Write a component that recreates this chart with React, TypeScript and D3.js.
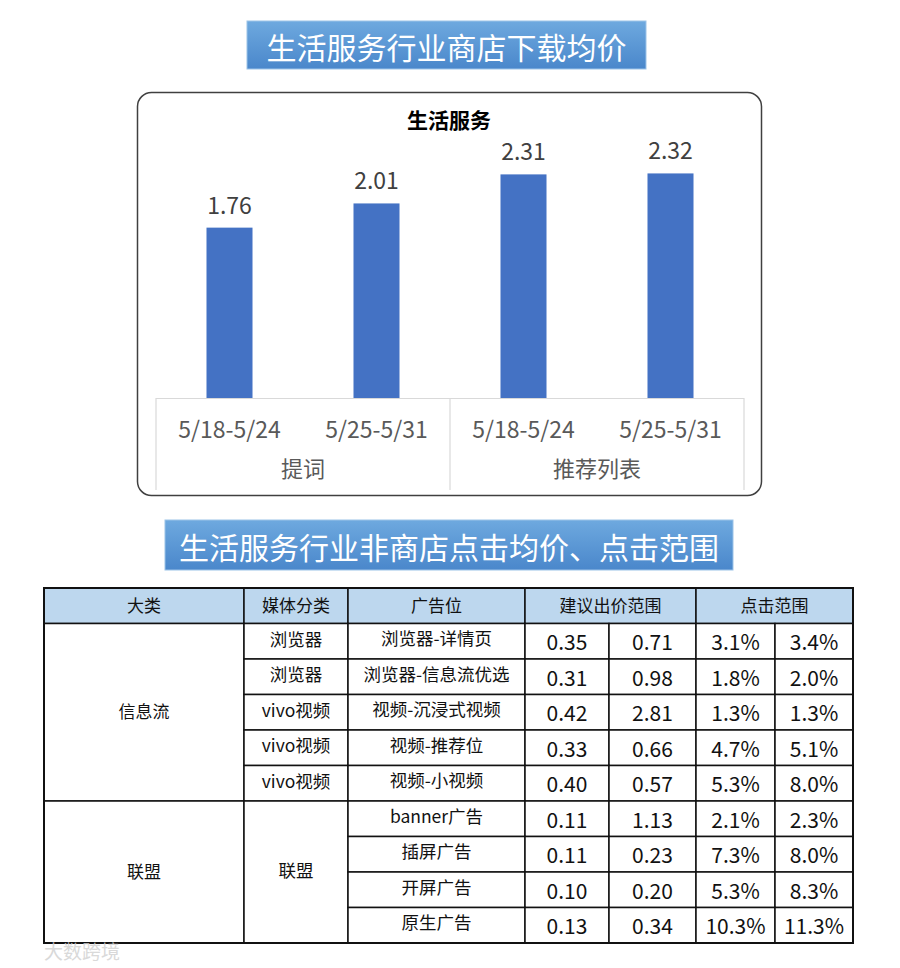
import React from "react"
import * as d3 from "d3"

// bar chart: average download price
const periods = ["5/18-5/24", "5/25-5/31", "5/18-5/24", "5/25-5/31"]
const groups = ["提词", "推荐列表"]
const prices = [1.76, 2.01, 2.31, 2.32]

// table: click price and click range
const headers = ["大类", "媒体分类", "广告位", "建议出价范围", "点击范围"]
const categories = ["信息流", "信息流", "信息流", "信息流", "信息流", "联盟", "联盟", "联盟", "联盟"]
const mediaCells = [
  { label: "浏览器", rows: 1 },
  { label: "浏览器", rows: 1 },
  { label: "vivo视频", rows: 1 },
  { label: "vivo视频", rows: 1 },
  { label: "vivo视频", rows: 1 },
  { label: "联盟", rows: 4 }
]
const adSlots = [
  "浏览器-详情页",
  "浏览器-信息流优选",
  "视频-沉浸式视频",
  "视频-推荐位",
  "视频-小视频",
  "banner广告",
  "插屏广告",
  "开屏广告",
  "原生广告"
]
const bidLow = ["0.35", "0.31", "0.42", "0.33", "0.40", "0.11", "0.11", "0.10", "0.13"]
const bidHigh = ["0.71", "0.98", "2.81", "0.66", "0.57", "1.13", "0.23", "0.20", "0.34"]
const clickLow = ["3.1%", "1.8%", "1.3%", "4.7%", "5.3%", "2.1%", "7.3%", "5.3%", "10.3%"]
const clickHigh = ["3.4%", "2.0%", "1.3%", "5.1%", "8.0%", "2.3%", "8.0%", "8.3%", "11.3%"]

const FONT = "'Noto Sans CJK SC', 'Noto Sans', sans-serif"

function Banner({ x, y, w, h, text, size }: { x: number; y: number; w: number; h: number; text: string; size: number }) {
  return (
    <g>
      <rect x={x} y={y} width={w} height={h} fill="url(#bannerGrad)" stroke="#9cc3e8" strokeWidth={1} />
      <text x={x + w / 2} y={y + h / 2 + 1} textAnchor="middle" dominantBaseline="central" fill="#fff" fontSize={size} fontFamily={FONT}>
        {text}
      </text>
    </g>
  )
}

function BarChart() {
  const left = 156
  const right = 744
  const baseline = 398
  const axisBottom = 490

  const x = d3
    .scaleBand<number>()
    .domain(d3.range(prices.length))
    .range([left, right])
    .paddingInner(0.687)
    .paddingOuter(0.3435)
  const y = d3.scaleLinear().domain([0, 2.5]).range([baseline, 156])
  const group = d3.scaleBand<string>().domain(groups).range([left, right])

  return (
    <g>
      <rect x={137.5} y={92.5} width={624} height={403} rx={14} fill="#fff" stroke="#404040" strokeWidth={1.5} />
      <text x={449} y={119} textAnchor="middle" dominantBaseline="central" fontSize={21} fontWeight="bold" fontFamily={FONT} fill="#000">
        生活服务
      </text>
      {prices.map((v, i) => (
        <g key={i}>
          <rect x={x(i)} y={y(v)} width={x.bandwidth()} height={baseline - y(v)} fill="#4472c4" />
          <text x={x(i)! + x.bandwidth() / 2} y={y(v) - 24} textAnchor="middle" dominantBaseline="central" fontSize={23} fill="#404040" fontFamily={FONT}>
            {v.toFixed(2)}
          </text>
          <text x={x(i)! + x.bandwidth() / 2} y={428} textAnchor="middle" dominantBaseline="central" fontSize={23} fill="#595959" fontFamily={FONT}>
            {periods[i]}
          </text>
        </g>
      ))}
      <line x1={left} x2={right} y1={baseline + 0.5} y2={baseline + 0.5} stroke="#d9d9d9" strokeWidth={1.2} />
      {[left, ...groups.map((g) => group(g)! + group.bandwidth())].map((gx, i) => (
        <line key={i} x1={gx} x2={gx} y1={baseline} y2={axisBottom} stroke="#d9d9d9" strokeWidth={1.2} />
      ))}
      {groups.map((g) => (
        <text key={g} x={group(g)! + group.bandwidth() / 2} y={467} textAnchor="middle" dominantBaseline="central" fontSize={22} fill="#595959" fontFamily={FONT}>
          {g}
        </text>
      ))}
    </g>
  )
}

function Table() {
  const cols = [44, 244, 348, 525, 609, 696, 775, 853]
  const rows = d3.scaleBand<number>().domain(d3.range(categories.length + 1)).range([588, 943])
  const rh = rows.step()
  const cell = (c0: number, c1: number, r0: number, r1: number, text: string, size: number, key: string, fill = "#fff", dy = 0) => {
    const x0 = cols[c0]
    const x1 = cols[c1]
    const y0 = rows(r0)!
    const y1 = rows(r1 - 1)! + rh
    return (
      <g key={key}>
        <rect x={x0} y={y0} width={x1 - x0} height={y1 - y0} fill={fill} stroke="#111" strokeWidth={1.5} />
        <text x={(x0 + x1) / 2} y={(y0 + y1) / 2 + dy} textAnchor="middle" dominantBaseline="central" fontSize={size} fill="#111" fontFamily={FONT}>
          {text}
        </text>
      </g>
    )
  }

  const out: React.ReactNode[] = []
  // header
  const hdrSpans = [
    [0, 1],
    [1, 2],
    [2, 3],
    [3, 5],
    [5, 7]
  ]
  headers.forEach((h, i) => out.push(cell(hdrSpans[i][0], hdrSpans[i][1], 0, 1, h, 17, "h" + i, "#bdd7ee", -1.5)))

  // merged category cells
  let r = 0
  while (r < categories.length) {
    let e = r
    while (e < categories.length && categories[e] === categories[r]) e++
    out.push(cell(0, 1, r + 1, e + 1, categories[r], 17, "c" + r, "#fff", -2))
    r = e
  }
  let mr = 0
  mediaCells.forEach((m, i) => {
    out.push(cell(1, 2, mr + 1, mr + 1 + m.rows, m.label, 17.5, "m" + i, "#fff", -3))
    mr += m.rows
  })
  adSlots.forEach((a, i) => {
    out.push(cell(2, 3, i + 1, i + 2, a, 17.5, "a" + i, "#fff", -3.5))
    out.push(cell(3, 4, i + 1, i + 2, bidLow[i], 21, "bl" + i))
    out.push(cell(4, 5, i + 1, i + 2, bidHigh[i], 21, "bh" + i))
    out.push(cell(5, 6, i + 1, i + 2, clickLow[i], 21, "cl" + i))
    out.push(cell(6, 7, i + 1, i + 2, clickHigh[i], 21, "ch" + i))
  })

  return (
    <g>
      {out}
      <rect x={cols[0]} y={588} width={cols[7] - cols[0]} height={355} fill="none" stroke="#111" strokeWidth={2} />
    </g>
  )
}

export default function App() {
  return (
    <div style={{ position: "absolute", left: 0, top: 0 }}>
      <svg width={900} height={968} style={{ display: "block", background: "#fff" }}>
        <defs>
          <linearGradient id="bannerGrad" x1="0" y1="0" x2="0" y2="1">
            <stop offset="0" stopColor="#6ea9df" />
            <stop offset="1" stopColor="#4a87cb" />
          </linearGradient>
        </defs>
        <Banner x={247} y={21} w={399} h={48} text="生活服务行业商店下载均价" size={30} />
        <BarChart />
        <Banner x={165} y={520} w={568} h={50} text="生活服务行业非商店点击均价、点击范围" size={30} />
        <Table />
        <text x={44} y={950} dominantBaseline="central" fontSize={19} fill="#d0d0d0" fontFamily={FONT} opacity={0.8}>
          大数跨境
        </text>
      </svg>
    </div>
  )
}
